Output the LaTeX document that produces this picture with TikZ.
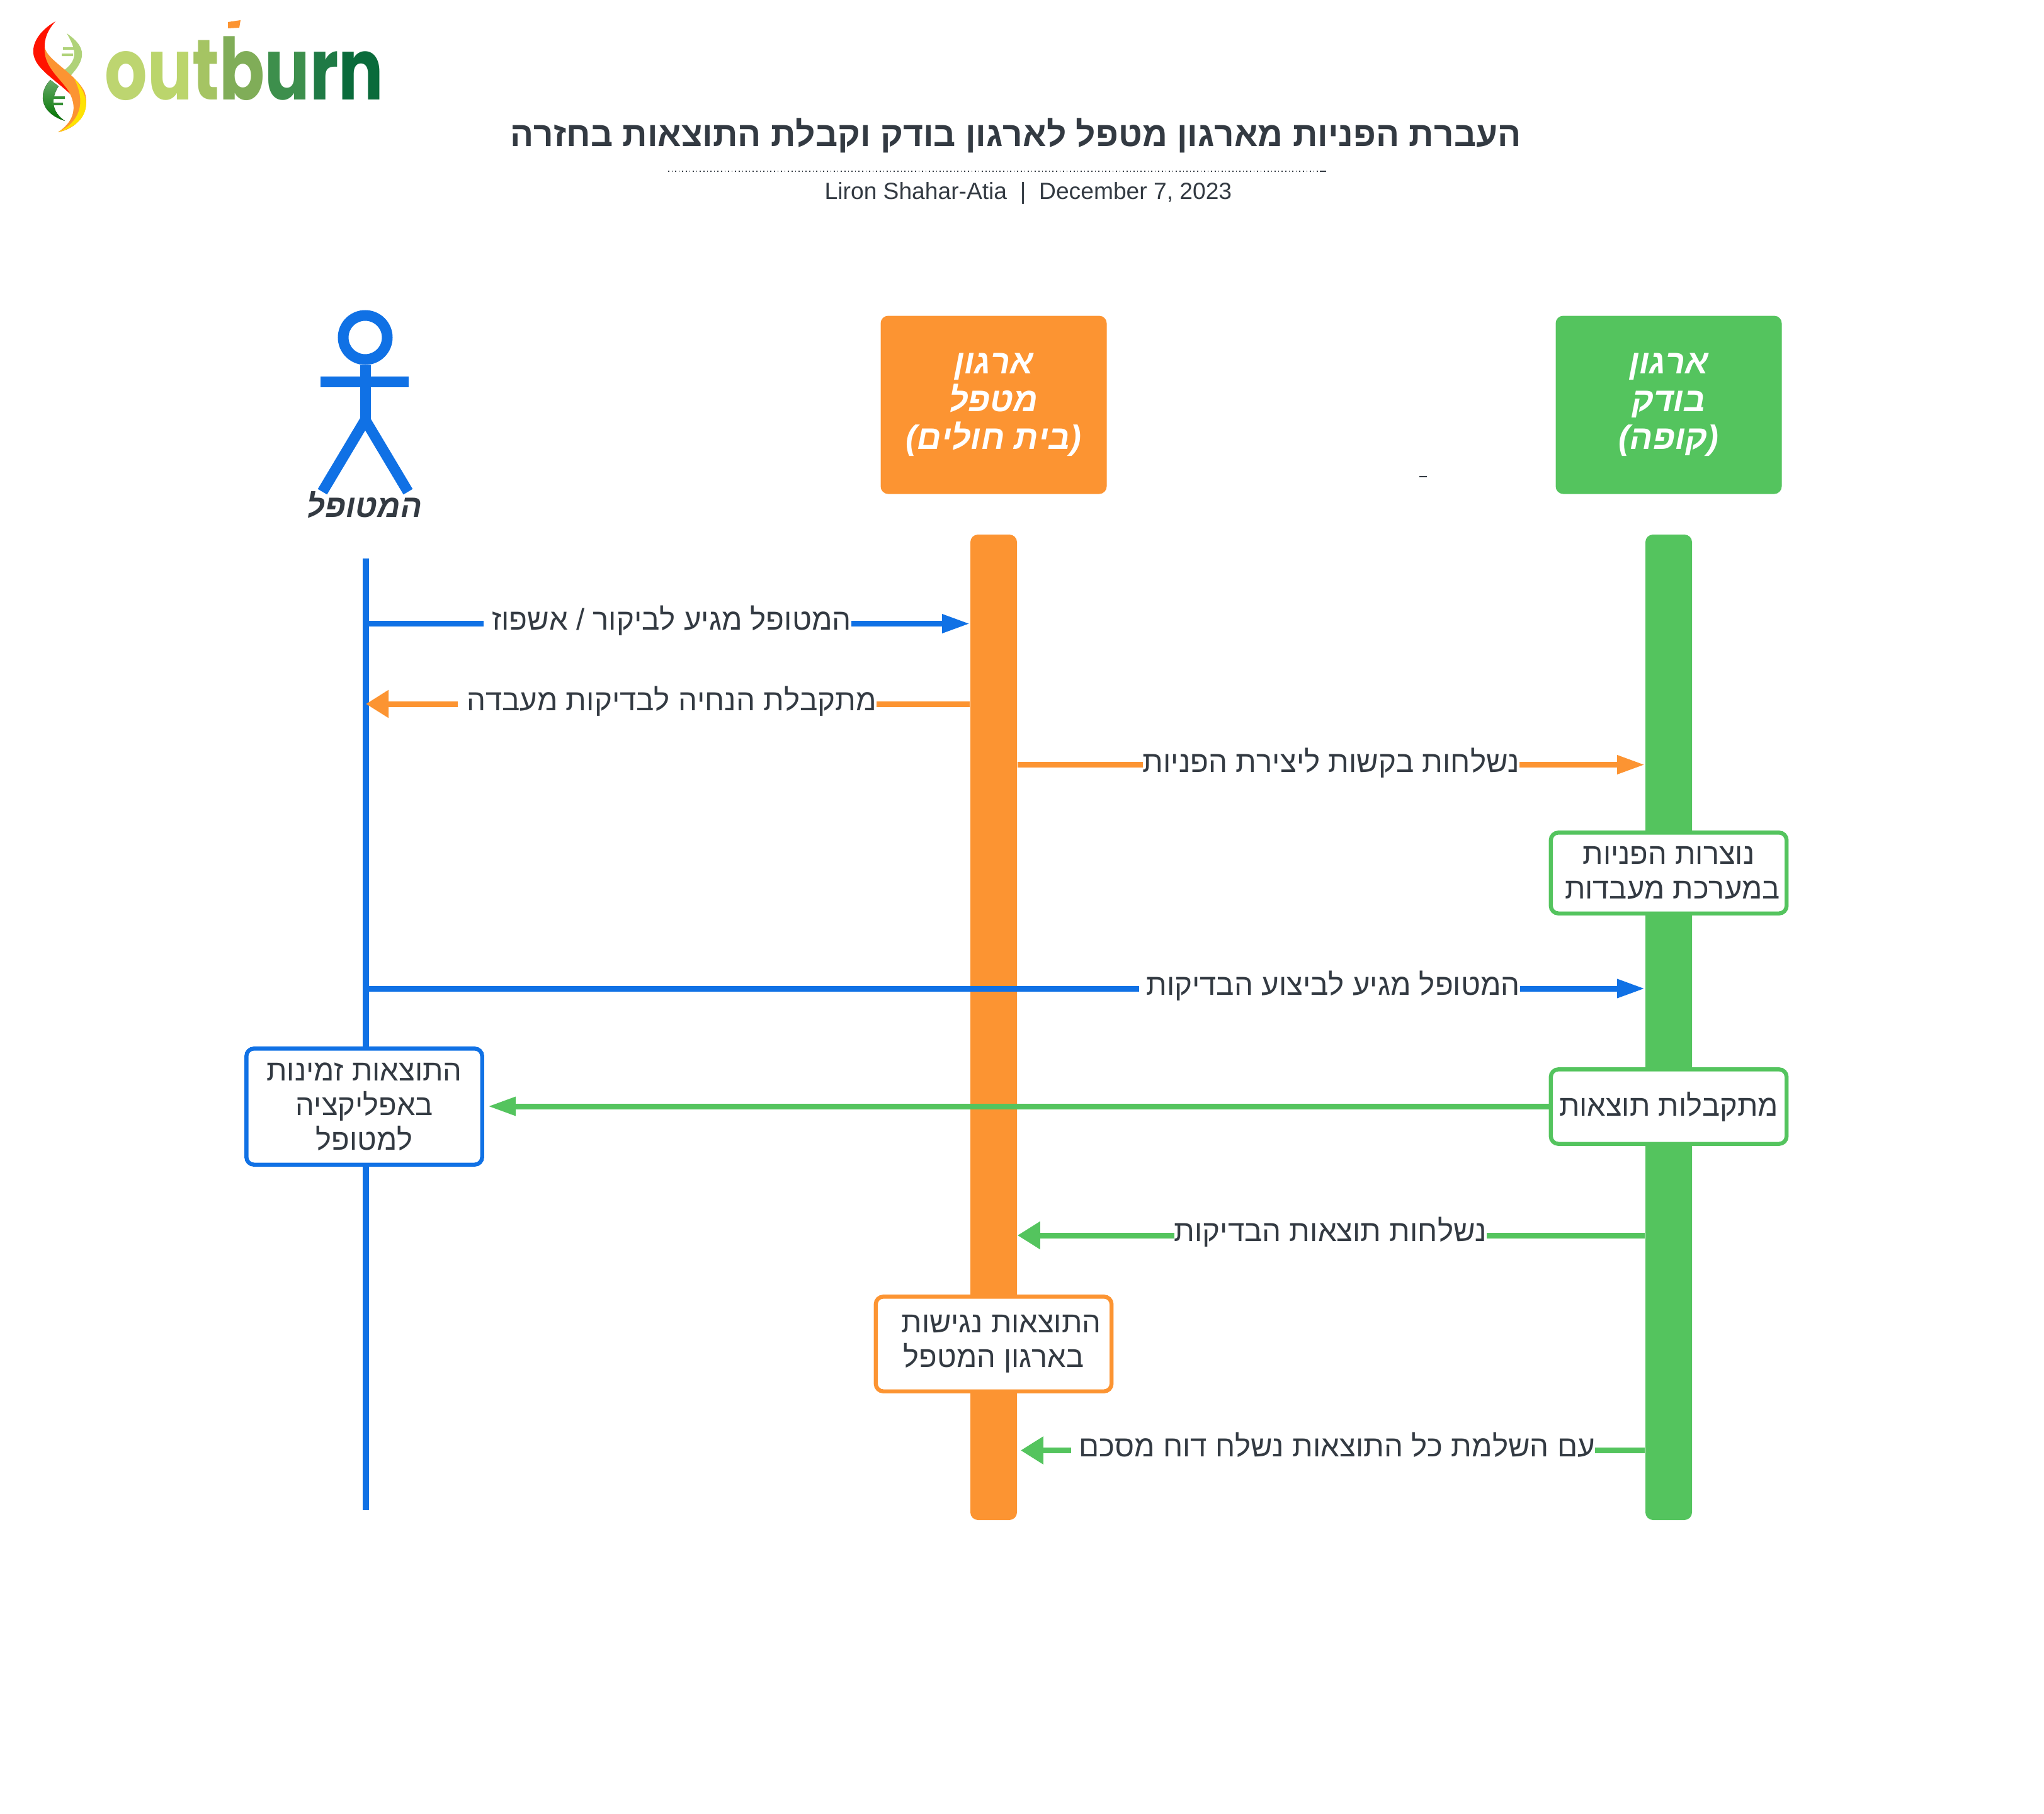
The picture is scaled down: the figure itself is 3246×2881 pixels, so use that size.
\documentclass[tikz,border=0pt]{standalone}
\usepackage{fontspec}
\setmainfont{Liberation Sans}
\newfontfamily\logofont{Poppins}
\TeXXeTstate=1
\usetikzlibrary{arrows.meta}
\definecolor{myblue}{HTML}{1071E5}
\definecolor{myorange}{HTML}{FC9432}
\definecolor{mygreen}{HTML}{54C45E}
\definecolor{mytext}{HTML}{333A42}
\newcommand{\rtl}[1]{\beginR #1\endR}
\tikzset{
	head/.style = {fill=#1, draw=none, rounded corners=3pt, minimum width=89.75pt, minimum height=70.75pt, text=white, align=center, inner sep=0pt, font=\fontsize{13.4}{15}\selectfont\bfseries\itshape},
	bar/.style = {fill=#1, draw=none, rounded corners=3pt, minimum width=18.5pt, minimum height=391.25pt, inner sep=0pt},
	note/.style = {fill=white, draw=#1, line width=1.6pt, rounded corners=3pt, minimum width=93.6pt, text=mytext, align=center, inner sep=0pt, font=\fontsize{11.75}{13.75}\selectfont},
	msg/.style = {line width=2.25pt, draw=#1},
	bigtip/.style = {-{Triangle[length=11pt, width=7pt, fill=#1]}},
	widetip/.style = {-{Triangle[length=9pt, width=10.5pt, fill=#1]}},
	lab/.style = {fill=white, text=mytext, inner sep=0pt, font=\fontsize{11.85}{13.75}\selectfont}
}
\begin{document}
\begin{tikzpicture}[x=0.25pt, y=-0.25pt]
	\useasboundingbox (0,0) rectangle (3246,2881);

	% logo
	\fill[top color=green!45!black!60!white, bottom color=green!45!black] (80,127) .. controls (62,145) and (60,178) .. (103,192) .. controls (85,180) and (78,160) .. (93,137) -- cycle;
	\fill[green!40!yellow!50!gray!70!white] (106,53) .. controls (138,75) and (140,95) .. (102,130) -- (92,118) .. controls (122,100) and (125,85) .. (106,53) -- cycle;
	\fill[green!40!yellow!50!gray!70!white] (100,75) rectangle (118,79) (98,85) rectangle (116,89);
	\fill[green!45!black!80] (85,153) rectangle (103,157) (83,163) rectangle (100,167);
	\fill[red!85!orange] (88,34) .. controls (60,50) and (46,75) .. (56,95) .. controls (64,115) and (100,135) .. (122,160) .. controls (115,135) and (72,105) .. (71,78) .. controls (70,60) and (76,48) .. (88,34) -- cycle;
	\fill[myorange] (71,75) .. controls (74,95) and (118,115) .. (134,145) .. controls (146,180) and (120,205) .. (92,210) .. controls (115,195) and (122,175) .. (113,153) .. controls (105,130) and (68,110) .. (71,75) -- cycle;
	\fill[yellow!85!orange] (118,125) .. controls (146,155) and (146,195) .. (92,210) .. controls (125,195) and (138,165) .. (118,125) -- cycle;
	\node[inner sep=0pt, anchor=base, xscale=0.78, transform shape] (logo) at (388,158) {\logofont\fontsize{34}{34}\selectfont\bfseries\textcolor[HTML]{BDD570}{o}\textcolor[HTML]{BBD56C}{u}\textcolor[HTML]{A5C463}{t}\textcolor[HTML]{80AD58}{b}\textcolor[HTML]{3D8F4C}{u}\textcolor[HTML]{1F7A45}{r}\textcolor[HTML]{0A6B3B}{n}};
	\fill[myorange] (362,35) -- (382,32) -- (380,44) -- (362,45) -- cycle;

	% title
	\node[text=mytext] (title) at (1613,215) {\fontsize{13.75}{16}\selectfont\bfseries\rtl{העברת הפניות מארגון מטפל לארגון בודק וקבלת התוצאות בחזרה}};
	\coordinate (ruleL) at (1061,272);
	\coordinate (ruleE) at (2096,272);
	\coordinate (ruleR) at (2106,272);
	\draw[mytext, line width=0.4pt, densely dotted] (ruleL) -- (ruleR);
	\draw[mytext, line width=0.5pt] (ruleE) -- (ruleR);
	\node[text=mytext] (author) at (1633,307) {\fontsize{9.3}{12}\selectfont Liron Shahar-Atia\ \ |\ \ December 7, 2023};
	\coordinate (dashL) at (2254,757);
	\coordinate (dashR) at (2266,757);
	\draw[mytext, line width=0.5pt] (dashL) -- (dashR);

	% patient figure
	\node[circle, draw=myblue, line width=4.25pt, minimum size=17.5pt, inner sep=0pt] (face) at (580,536) {};
	\coordinate (hip) at (580,667);
	\coordinate (armL) at (509,606);
	\coordinate (armR) at (649,606);
	\coordinate (footL) at (512,781);
	\coordinate (footR) at (648,781);
	\draw[myblue, line width=4.25pt] (face) -- (hip);
	\draw[myblue, line width=4.25pt] (armL) -- (armR);
	\draw[myblue, line width=4.25pt] (footL) -- (hip) -- (footR);
	\node[text=mytext, inner sep=0pt, font=\fontsize{12.6}{15}\selectfont\bfseries\itshape] (patient) at (579,802) {\rtl{המטופל}};

	% heads
	\node[head=myorange] (sender) at (1578,643) {\rtl{ארגון}\\\rtl{מטפל}\\\rtl{(בית חולים)}};
	\node[head=mygreen] (checker) at (2650,643) {\rtl{ארגון}\\\rtl{בודק}\\\rtl{(קופה)}};

	% lifelines
	\node[bar=myorange] (senderbar) at (1578,1631.5) {};
	\node[bar=mygreen] (checkerbar) at (2650,1631.5) {};
	\coordinate (lifetop) at (581,887);
	\coordinate (lifeend) at (581,2398);
	\draw[myblue, line width=2.3pt] (lifetop) -- (lifeend);

	% message rows
	\coordinate (m1) at (581,990.5);
	\coordinate (m2) at (581,1118);
	\coordinate (m3) at (581,1214.5);
	\coordinate (m4) at (581,1570);
	\coordinate (m5) at (581,1757);
	\coordinate (m6) at (581,1962);
	\coordinate (m7) at (581,2303.5);

	\draw[msg=myblue, bigtip=myblue] (m1) -- (senderbar.west |- m1);
	\node[lab] (t1) at (1060,986) {\hspace*{3.2pt}\rtl{המטופל מגיע לביקור / אשפוז}};
	\draw[msg=myorange, widetip=myorange] (senderbar.west |- m2) -- (m2);
	\node[lab] (t2) at (1059.5,1114) {\hspace*{3.5pt}\rtl{מתקבלת הנחיה לבדיקות מעבדה}};
	\draw[msg=myorange, bigtip=myorange] (senderbar.east |- m3) -- (checkerbar.west |- m3);
	\node[lab] (t3) at (2114,1212) {\rtl{נשלחות בקשות ליצירת הפניות}};
	\draw[msg=myblue, bigtip=myblue] (m4) -- (checkerbar.west |- m4);
	\node[lab] (t4) at (2111.5,1566) {\hspace*{2.75pt}\rtl{המטופל מגיע לביצוע הבדיקות}};

	\node[note=mygreen, minimum height=32.1pt] (ordered) at (2650,1386.5) {\rtl{נוצרות הפניות}\\\hspace*{3pt}\rtl{במערכת מעבדות}};
	\node[note=mygreen, minimum height=29.6pt] (results) at (2650,1757.5) {\rtl{מתקבלות תוצאות}};
	\node[note=myblue, minimum height=46.1pt] (available) at (578.5,1757.5) {\rtl{התוצאות זמינות}\\\rtl{באפליקציה}\\\rtl{למטופל}};
	\node[note=myorange, minimum height=37.6pt] (accessible) at (1578,2134.5) {\hspace*{6pt}\rtl{התוצאות נגישות}\\\rtl{בארגון המטפל}};

	\draw[msg=mygreen, bigtip=mygreen] (results.west |- m5) -- ([xshift=1.5pt]available.east |- m5);
	\draw[msg=mygreen, widetip=mygreen] (checkerbar.west |- m6) -- (senderbar.east |- m6);
	\node[lab] (t6) at (2113,1957) {\rtl{נשלחות תוצאות הבדיקות}};
	\draw[msg=mygreen, widetip=mygreen] (checkerbar.west |- m7) -- ([xshift=1.25pt]senderbar.east |- m7);
	\node[lab] (t7) at (2117,2295) {\hspace*{3pt}\rtl{עם השלמת כל התוצאות נשלח דוח מסכם}};
\end{tikzpicture}
\end{document}
